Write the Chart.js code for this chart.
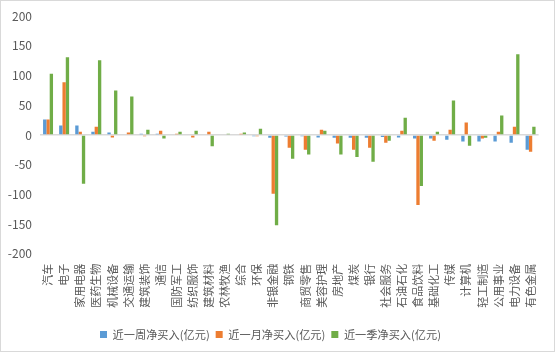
<!DOCTYPE html>
<html>
<head>
<meta charset="utf-8">
<script src="https://cdn.jsdelivr.net/npm/chart.js@4"></script>
<style>
  html, body { margin: 0; padding: 0; background: #fff; }
  #wrap { width: 555px; height: 352px; box-sizing: border-box; border: 1px solid #d9d9d9; }
  canvas { display: block; }
</style>
</head>
<body>
<div id="wrap"><canvas id="chart" width="553" height="350"></canvas></div>
<script>
// Chart data
const CATEGORIES = ["汽车", "电子", "家用电器", "医药生物", "机械设备", "交通运输", "建筑装饰", "通信",
  "国防军工", "纺织服饰", "建筑材料", "农林牧渔", "综合", "环保", "非银金融", "钢铁", "商贸零售",
  "美容护理", "房地产", "煤炭", "银行", "社会服务", "石油石化", "食品饮料", "基础化工", "传媒",
  "计算机", "轻工制造", "公用事业", "电力设备", "有色金属"];

const WEEK = [26, 16, 16, 5.5, 4, 0, 2, 2, 0, 0, 0, 0, 0, -2, -4.5, -2.5, -2, -4, -4.5, -4.5,
  -4.5, -3.5, -4, -6, -6, -8, -11, -11, -11, -13, -25];
const MONTH = [26, 89, 5.5, 14, -4, 4, -2, 7, 2, -4, 5.5, 0, 2, -2, -99, -21.5, -25, 9, -14.5, -25,
  -21.5, -13, 7, -118, -9.5, 9, 21, -6, 5.5, 14, -28];
const QUARTER = [103, 131, -82, 126, 75, 65, 9, -6, 5.5, 7, -19, 2, 4, 10.5, -152, -40, -33, 7, -33, -37,
  -45, -9.5, 29, -86, 5.5, 58, -18, -4.5, 33, 136, 14];

const Y_TICKS = [-200, -150, -100, -50, 0, 50, 100, 150, 200];

const TEXT = "#595959";
const FONT = "'Noto Sans CJK SC', 'Noto Sans', sans-serif";

const series = (label, data, color) => ({
  label,
  data,
  backgroundColor: color,
  borderWidth: 0,
  categoryPercentage: 0.62,
  barPercentage: 1.0,
});

const DATA = {
  labels: CATEGORIES,
  datasets: [
    series("近一周净买入(亿元)", WEEK, "#5B9BD5"),
    series("近一月净买入(亿元)", MONTH, "#ED7D31"),
    series("近一季净买入(亿元)", QUARTER, "#70AD47"),
  ],
};

const CONFIG = {
  type: "bar",
  data: DATA,
  options: {
    responsive: false,
    animation: false,
    layout: { padding: { top: 14, right: 14, bottom: 1, left: 0 } },
    plugins: {
      legend: {
        position: "bottom",
        labels: {
          boxWidth: 7,
          boxHeight: 7,
          padding: 6,
          color: TEXT,
          font: { family: FONT, size: 11.2 },
        },
      },
      title: { display: false },
      tooltip: { enabled: false },
    },
    scales: {
      x: {
        border: { display: false },
        grid: { display: false, drawTicks: false },
        ticks: {
          autoSkip: false,
          maxRotation: 90,
          minRotation: 90,
          padding: 10,
          color: TEXT,
          font: { family: FONT, size: 11 },
        },
        afterFit: (s) => { s.height = 69; },
      },
      y: {
        min: -200,
        max: 200,
        afterBuildTicks: (s) => { s.ticks = Y_TICKS.map((v) => ({ value: v })); },
        border: { display: false },
        grid: {
          drawTicks: false,
          color: (c) => (c.tick && c.tick.value === 0 ? "#d9d9d9" : "rgba(0,0,0,0)"),
          lineWidth: 1.5,
        },
        ticks: {
          padding: 8,
          color: TEXT,
          font: { family: FONT, size: 12 },
        },
        afterFit: (s) => { s.width = 39; },
      },
    },
  },
};

// Init chart
new Chart(document.getElementById("chart"), CONFIG);
</script>
</body>
</html>
